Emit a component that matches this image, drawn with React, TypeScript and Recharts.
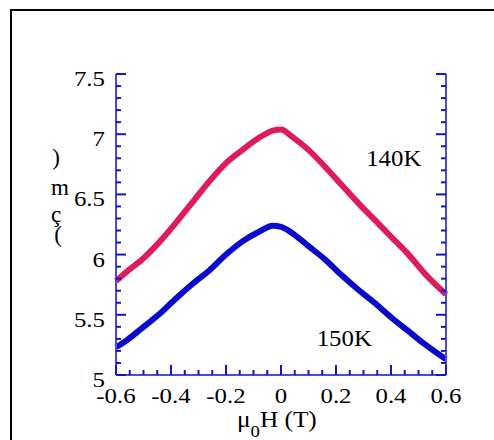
import React from 'react';
import { LineChart, Line, XAxis, YAxis, ReferenceDot } from 'recharts';

// field sweep (T) and the two temperature curves
const fieldH = [-0.6, -0.56, -0.5, -0.44, -0.38, -0.32, -0.26, -0.2, -0.14, -0.08, -0.03, 0, 0.04, 0.1, 0.16, 0.22, 0.28, 0.34, 0.4, 0.46, 0.52, 0.6];
const xi140 = [5.78, 5.86, 5.97, 6.11, 6.27, 6.44, 6.61, 6.76, 6.87, 6.97, 7.03, 7.04, 6.98, 6.87, 6.73, 6.58, 6.43, 6.29, 6.15, 6.01, 5.85, 5.67];
const xi150 = [5.23, 5.29, 5.40, 5.51, 5.64, 5.76, 5.87, 6.0, 6.11, 6.19, 6.24, 6.23, 6.18, 6.07, 5.96, 5.83, 5.71, 5.6, 5.48, 5.37, 5.26, 5.13];

const xTicks = [-0.6, -0.55, -0.5, -0.45, -0.4, -0.35, -0.3, -0.25, -0.2, -0.15, -0.1, -0.05, 0, 0.05, 0.1, 0.15, 0.2, 0.25, 0.3, 0.35, 0.4, 0.45, 0.5, 0.55, 0.6];
const xMajor = [-0.6, -0.4, -0.2, 0, 0.2, 0.4, 0.6];
const yTicks = [5, 5.1, 5.2, 5.3, 5.4, 5.5, 5.6, 5.7, 5.8, 5.9, 6, 6.1, 6.2, 6.3, 6.4, 6.5, 6.6, 6.7, 6.8, 6.9, 7, 7.1, 7.2, 7.3, 7.4, 7.5];
const yMajor = [5, 5.5, 6, 6.5, 7, 7.5];

const data = fieldH.map((h, i) => ({ h, t140: xi140[i], t150: xi150[i] }));

const FONT = '"Liberation Serif", "Times New Roman", serif';
const TICK = '#1414cc';
const AXIS = '#4a4ae0';
const RED = '#de1b5c';
const BLUE = '#0a0acc';

// serif text, a little widened
const Wide = ({ x, y, anchor = 'start', size = 22, sx = 1.13, children }: any) => (
  <text
    transform={`translate(${x} ${y}) scale(${sx} 1)`}
    textAnchor={anchor}
    fontFamily={FONT}
    fontSize={size}
    fill="#000"
  >
    {children}
  </text>
);

const BottomTick = ({ x, y, payload }: any) => {
  const major = xMajor.includes(payload.value);
  return (
    <g>
      <line x1={x} x2={x} y1={y} y2={y - (major ? 10 : 5)} stroke={TICK} strokeWidth={2} />
      {major && (
        <Wide x={x} y={y + 28} anchor="middle">
          {String(payload.value)}
        </Wide>
      )}
    </g>
  );
};

const TopTick = ({ x, y, payload }: any) => {
  const major = xMajor.includes(payload.value);
  return <line x1={x} x2={x} y1={y} y2={y + (major ? 10 : 5)} stroke={TICK} strokeWidth={2} />;
};

const LeftTick = ({ x, y, payload }: any) => {
  const major = yMajor.includes(payload.value);
  return (
    <g>
      <line x1={x} x2={x + (major ? 10 : 5)} y1={y} y2={y} stroke={TICK} strokeWidth={2} />
      {major && (
        <Wide x={x - 11} y={y + 12} anchor="end">
          {String(payload.value)}
        </Wide>
      )}
    </g>
  );
};

const RightTick = ({ x, y, payload }: any) => {
  const major = yMajor.includes(payload.value);
  return <line x1={x} x2={x - (major ? 10 : 5)} y1={y} y2={y} stroke={TICK} strokeWidth={2} />;
};

const XTitle = ({ viewBox }: any) => (
  <Wide x={viewBox.x + 121} y={viewBox.y + 52} size={23} sx={1.1}>
    <tspan>μ</tspan>
    <tspan dy={10} fontSize={17}>0</tspan>
    <tspan dy={-10}>H (T)</tspan>
  </Wide>
);

// vertical stack of characters for the y title
const YTitle = ({ viewBox }: any) => {
  const cx = viewBox.x + 56;
  const top = viewBox.y;
  return (
    <g fontFamily={FONT} fontSize={23} fill="#000" textAnchor="middle">
      <text x={cx} y={top + 91}>)</text>
      <text x={cx + 4} y={top + 121}>m</text>
      <text x={cx} y={top + 148}>ç</text>
      <text x={cx + 2} y={top + 168}>(</text>
    </g>
  );
};

const tempLabel = (txt: string) => ({ viewBox }: any) => (
  <Wide x={viewBox.x} y={viewBox.y} anchor="middle" size={23} sx={1.08}>
    {txt}
  </Wide>
);

export default function App() {
  return (
    <div style={{ position: 'fixed', left: 0, top: 0, width: 494, height: 440, background: '#fff', overflow: 'hidden' }}>
      <div style={{ position: 'absolute', left: 10, top: 9, width: 500, height: 460, border: '2px solid #000' }} />
      <div style={{ position: 'absolute', left: 0, top: 0 }}>
        <LineChart width={494} height={440} data={data} margin={{ top: 74, right: 0, bottom: 0, left: 0 }}>
          <XAxis
            dataKey="h"
            type="number"
            domain={[-0.6, 0.6]}
            ticks={xTicks}
            interval={0}
            height={65}
            tickSize={0}
            tickMargin={0}
            tickLine={false}
            tick={BottomTick}
            axisLine={{ stroke: AXIS, strokeWidth: 2 }}
            label={XTitle}
          />
          <XAxis
            xAxisId="t"
            orientation="top"
            dataKey="h"
            type="number"
            domain={[-0.6, 0.6]}
            ticks={xTicks}
            interval={0}
            height={0}
            tickSize={0}
            tickMargin={0}
            tickLine={false}
            tick={TopTick}
            axisLine={{ stroke: AXIS, strokeWidth: 2 }}
          />
          <YAxis
            type="number"
            domain={[5, 7.5]}
            ticks={yTicks}
            interval={0}
            width={116}
            tickSize={0}
            tickMargin={0}
            tickLine={false}
            tick={LeftTick}
            axisLine={{ stroke: AXIS, strokeWidth: 2 }}
            label={YTitle}
          />
          <YAxis
            yAxisId="r"
            orientation="right"
            type="number"
            domain={[5, 7.5]}
            ticks={yTicks}
            interval={0}
            width={48}
            tickSize={0}
            tickMargin={0}
            tickLine={false}
            tick={RightTick}
            axisLine={{ stroke: AXIS, strokeWidth: 2 }}
          />
          <Line
            xAxisId="t"
            yAxisId="r"
            dataKey="t140"
            stroke={RED}
            strokeWidth={6}
            dot={false}
            type="monotoneX"
            isAnimationActive={false}
          />
          <Line dataKey="t150" stroke={BLUE} strokeWidth={6} dot={false} type="monotoneX" isAnimationActive={false} />
          <ReferenceDot x={0.41} y={6.74} r={0} fill="none" stroke="none" label={tempLabel('140K')} />
          <ReferenceDot x={0.23} y={5.24} r={0} fill="none" stroke="none" label={tempLabel('150K')} />
        </LineChart>
      </div>
    </div>
  );
}
